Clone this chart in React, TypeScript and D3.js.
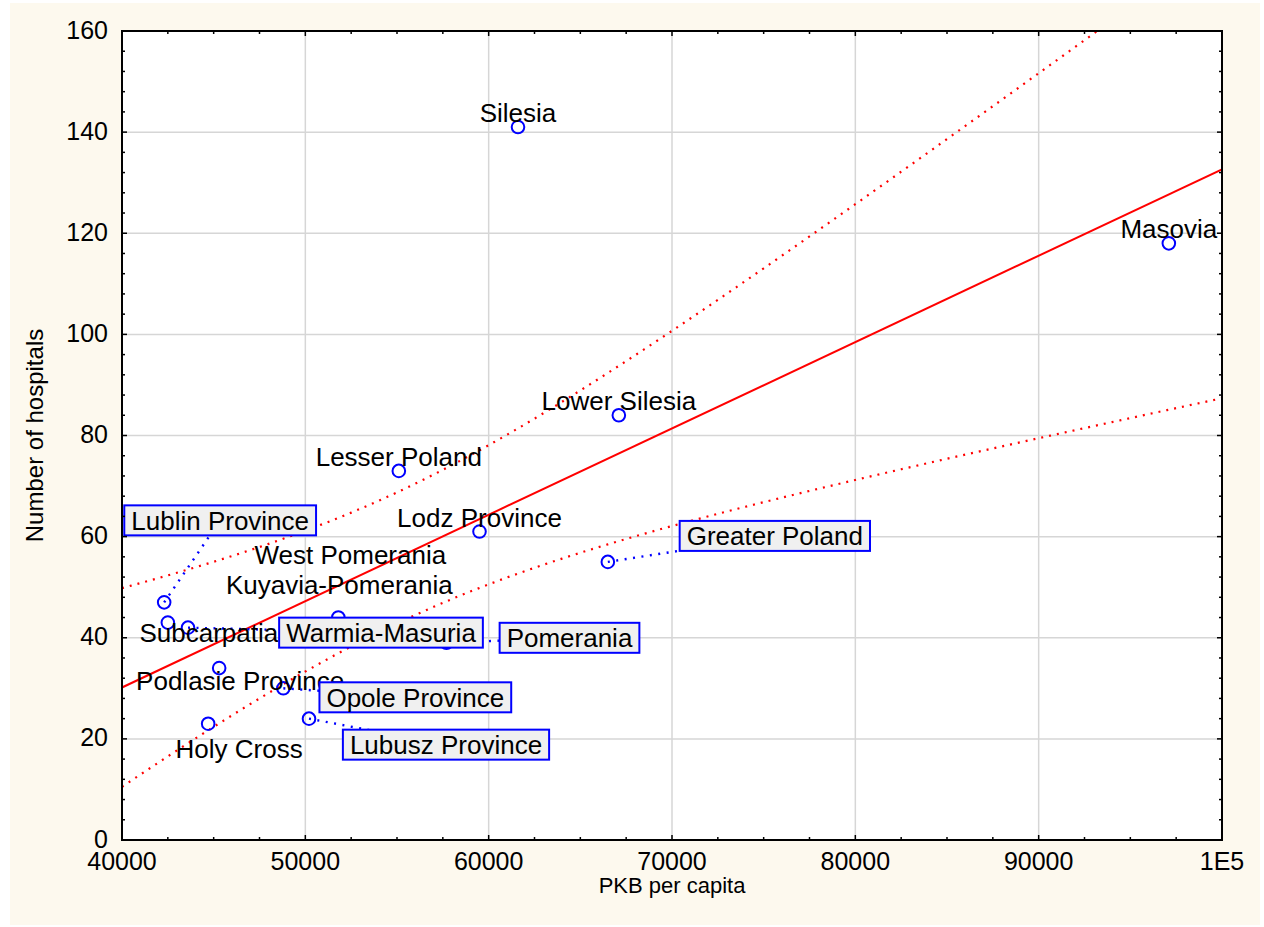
import React from "react";
import * as d3 from "d3";

const provinces = [
  "Silesia", "Masovia", "Lower Silesia", "Lesser Poland", "Lodz Province",
  "Greater Poland", "Lublin Province", "Subcarpatia", "Warmia-Masuria",
  "West Pomerania", "Pomerania", "Podlasie Province", "Opole Province",
  "Lubusz Province", "Holy Cross", "Kuyavia-Pomerania",
];
const pkbPerCapita = [
  61600, 97100, 67100, 55100, 59500, 66500, 42300, 42500, 43600,
  51800, 57700, 45300, 48800, 50200, 44700, 50000,
];
const hospitals = [141, 118, 84, 73, 61, 55, 47, 43, 42, 44, 39, 34, 30, 24, 23, 41];

const xTicks = [40000, 50000, 60000, 70000, 80000, 90000, 100000];
const xTickLabels = ["40000", "50000", "60000", "70000", "80000", "90000", "1E5"];
const yTicks = [0, 20, 40, 60, 80, 100, 120, 140, 160];

// label layout (pixel offsets from the point); boxed labels = box centre, plain = text centre/baseline
const labelLayout = [
  { boxed: false, dx: 0, dy: -5 },
  { boxed: false, dx: 0, dy: -5 },
  { boxed: false, dx: 0, dy: -5 },
  { boxed: false, dx: 0, dy: -5 },
  { boxed: false, dx: 0, dy: -5 },
  { boxed: true, dx: 167, dy: -26 },
  { boxed: true, dx: 56, dy: -82 },
  { boxed: false, dx: 41, dy: 19 },
  { boxed: true, dx: 193, dy: 5 },
  { boxed: false, dx: 12, dy: -54 },
  { boxed: true, dx: 123, dy: -5 },
  { boxed: false, dx: 21, dy: 22 },
  { boxed: true, dx: 132, dy: 9 },
  { boxed: true, dx: 137, dy: 26 },
  { boxed: false, dx: 31, dy: 34 },
  { boxed: false, dx: 34, dy: -39 },
];

const W = 1264, H = 927;
const L = 122, R = 1222, T = 31, B = 840;
const FONT = "'Liberation Sans', Arial, sans-serif";
const LABEL_SIZE = 26;

function measure(text: string, size: number): number {
  if (typeof document === "undefined") return text.length * size * 0.5;
  const c = (measure as any).c || ((measure as any).c = document.createElement("canvas"));
  const ctx = c.getContext("2d");
  ctx.font = `${size}px 'Liberation Sans', Arial, sans-serif`;
  return ctx.measureText(text).width;
}

export default function App() {
  const x = d3.scaleLinear().domain([40000, 100000]).range([L, R]);
  const y = d3.scaleLinear().domain([0, 160]).range([B, T]);

  // linear regression with 95% confidence bands
  const n = pkbPerCapita.length;
  const mx = d3.mean(pkbPerCapita)!;
  const my = d3.mean(hospitals)!;
  const sxx = d3.sum(pkbPerCapita, (v) => (v - mx) ** 2);
  const sxy = d3.sum(pkbPerCapita.map((v, i) => (v - mx) * (hospitals[i] - my)));
  const slope = sxy / sxx;
  const icpt = my - slope * mx;
  const sse = d3.sum(pkbPerCapita.map((v, i) => (hospitals[i] - (icpt + slope * v)) ** 2));
  const s = Math.sqrt(sse / (n - 2));
  const tval = 2.1448;
  const xs = d3.range(40000, 100001, 500);
  const band = (sign: number) =>
    xs.map((v) => {
      const yh = icpt + slope * v;
      const hw = tval * s * Math.sqrt(1 / n + (v - mx) ** 2 / sxx);
      return [v, yh + sign * hw] as [number, number];
    });
  const line = d3.line<[number, number]>().x((d) => x(d[0])).y((d) => y(d[1]));
  const regLine = line([[40000, icpt + slope * 40000], [100000, icpt + slope * 100000]]);

  const xMinor = d3.range(40000, 100001, 2500);
  const yMinor = d3.range(0, 161, 4);

  const pts = provinces.map((name, i) => ({
    name,
    cx: x(pkbPerCapita[i]),
    cy: y(hospitals[i]),
    lay: labelLayout[i],
  }));

  return (
    <svg width={W} height={H} style={{ position: "absolute", left: 0, top: 0 }} fontFamily={FONT}>
      <rect x={0} y={0} width={W} height={H} fill="#ffffff" />
      <rect x={10} y={3} width={1250} height={922} fill="#fdf9ee" />
      <defs>
        <clipPath id="plotclip">
          <rect x={L} y={T} width={R - L} height={B - T} />
        </clipPath>
      </defs>
      <rect x={L} y={T} width={R - L} height={B - T} fill="#ffffff" />
      {/* grid */}
      {xTicks.slice(1, -1).map((t) => (
        <line key={"gx" + t} x1={x(t)} x2={x(t)} y1={T} y2={B} stroke="#d6d6d6" strokeWidth={1.5} />
      ))}
      {yTicks.slice(1, -1).map((t) => (
        <line key={"gy" + t} x1={L} x2={R} y1={y(t)} y2={y(t)} stroke="#d6d6d6" strokeWidth={1.5} />
      ))}
      {/* regression */}
      <g clipPath="url(#plotclip)">
        <path d={line(band(1)) || ""} fill="none" stroke="#ff0000" strokeWidth={2.2} strokeDasharray="2,6" />
        <path d={line(band(-1)) || ""} fill="none" stroke="#ff0000" strokeWidth={2.2} strokeDasharray="2,6" />
        <path d={regLine || ""} fill="none" stroke="#ff0000" strokeWidth={2} />
      </g>
      {/* leader lines */}
      {pts.filter((p) => p.lay.boxed).map((p) => (
        <line key={"ld" + p.name} x1={p.cx} y1={p.cy} x2={p.cx + p.lay.dx} y2={p.cy + p.lay.dy}
          stroke="#0000ff" strokeWidth={2.4} strokeDasharray="2,6.5" />
      ))}
      {/* points */}
      {pts.map((p) => (
        <circle key={"c" + p.name} cx={p.cx} cy={p.cy} r={6.3} fill="none" stroke="#0000ff" strokeWidth={2} />
      ))}
      {/* plain labels */}
      {pts.filter((p) => !p.lay.boxed).map((p) => (
        <text key={"t" + p.name} x={p.cx + p.lay.dx} y={p.cy + p.lay.dy} textAnchor="middle"
          fontSize={LABEL_SIZE} fill="#000">{p.name}</text>
      ))}
      {/* boxed labels */}
      {pts.filter((p) => p.lay.boxed).map((p) => {
        const w = measure(p.name, LABEL_SIZE) + 14;
        const bx = p.cx + p.lay.dx, by = p.cy + p.lay.dy;
        return (
          <g key={"b" + p.name}>
            <rect x={bx - w / 2} y={by - 15} width={w} height={30} fill="#f0f0f0" stroke="#0000ff" strokeWidth={2} />
            <text x={bx} y={by + 9.5} textAnchor="middle" fontSize={LABEL_SIZE} fill="#000">{p.name}</text>
          </g>
        );
      })}
      {/* frame */}
      <rect x={L} y={T} width={R - L} height={B - T} fill="none" stroke="#000" strokeWidth={2} />
      {/* ticks */}
      {xMinor.map((t) => {
        const major = (t % 10000) === 0;
        const len = major ? 5 : 3;
        return (
          <g key={"xt" + t}>
            <line x1={x(t)} x2={x(t)} y1={B} y2={B - len} stroke="#000" strokeWidth={1.5} />
            <line x1={x(t)} x2={x(t)} y1={T} y2={T + len} stroke="#000" strokeWidth={1.5} />
          </g>
        );
      })}
      {yMinor.map((t) => {
        const major = (t % 20) === 0;
        const len = major ? 5 : 3;
        return (
          <g key={"yt" + t}>
            <line x1={L} x2={L + len} y1={y(t)} y2={y(t)} stroke="#000" strokeWidth={1.5} />
            <line x1={R} x2={R - len} y1={y(t)} y2={y(t)} stroke="#000" strokeWidth={1.5} />
          </g>
        );
      })}
      {/* tick labels */}
      {xTicks.map((t, i) => (
        <text key={"xl" + t} x={x(t)} y={870} textAnchor="middle" fontSize={25} fill="#000">{xTickLabels[i]}</text>
      ))}
      {yTicks.map((t) => (
        <text key={"yl" + t} x={108} y={y(t) + 7.5} textAnchor="end" fontSize={25} fill="#000">{t}</text>
      ))}
      {/* axis titles */}
      <text x={672} y={893} textAnchor="middle" fontSize={22} fill="#000">PKB per capita</text>
      <text transform={`translate(43, ${(T + B) / 2}) rotate(-90)`} textAnchor="middle" fontSize={24} fill="#000">
        Number of hospitals
      </text>
    </svg>
  );
}
